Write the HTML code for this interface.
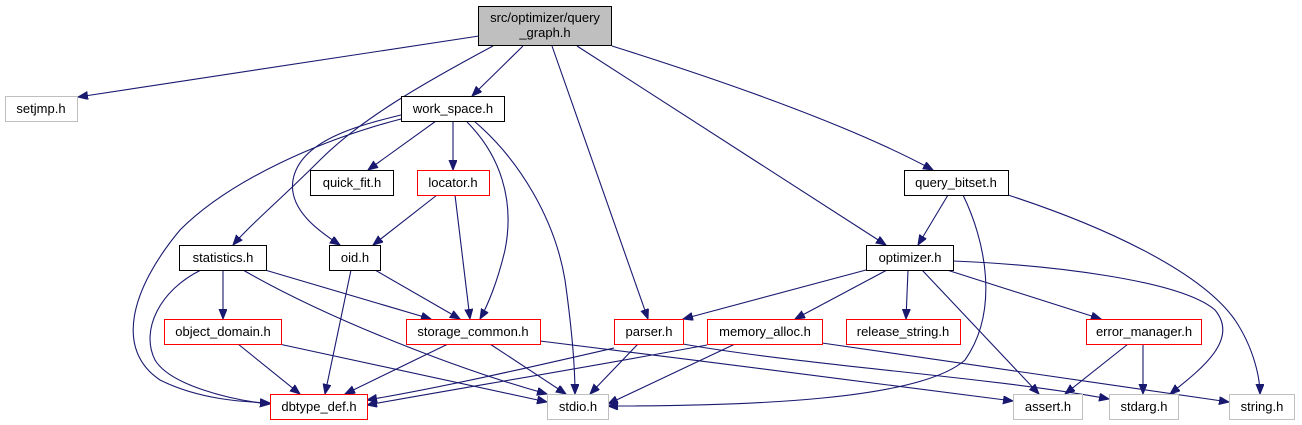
<!DOCTYPE html>
<html><head><meta charset="utf-8"><style>
html,body{margin:0;padding:0;background:#fff;width:1302px;height:425px;overflow:hidden}
svg{display:block}
text{font-family:"Liberation Sans",sans-serif;font-size:13px;text-anchor:middle;fill:#000}
.e{fill:none;stroke:#191970;stroke-width:1.1}
</style></head><body>
<svg width="1302" height="425" viewBox="0 0 1302 425">
<defs><marker id="a" markerUnits="userSpaceOnUse" markerWidth="12" markerHeight="10" refX="10" refY="4" orient="auto"><path d="M0,0 L10,4 L0,8 z" fill="#191970" stroke="#191970"/></marker></defs>
<g class="e" marker-end="url(#a)">
<path d="M479,36 L78,97"/>
<path d="M523,46 L472,96"/>
<path d="M493,46 C420,85 360,120 320,160 C280,200 250,225 233,245"/>
<path d="M552,46 L648,319"/>
<path d="M577,46 L886,245"/>
<path d="M612,46 C720,80 850,125 933,170"/>
<path d="M436,121 L368,170"/>
<path d="M453,121 L453,170"/>
<path d="M401,115 C360,125 300,140 293,180 C288,210 320,232 340,245"/>
<path d="M401,119 C320,140 230,180 180,230 C130,290 115,350 160,380 C200,400 245,402 270,403"/>
<path d="M467,122 C500,155 515,200 505,250 C498,280 488,305 480,319"/>
<path d="M474,121 C520,160 555,220 565,280 C572,330 575,370 575,394"/>
<path d="M437,195 L373,245"/>
<path d="M455,195 L470,319"/>
<path d="M223,270 L223,319"/>
<path d="M265,270 L431,319"/>
<path d="M243,270 C330,320 460,370 547,394"/>
<path d="M201,270 C160,290 140,330 155,360 C170,385 230,400 270,404"/>
<path d="M351,270 L325,394"/>
<path d="M375,270 L460,319"/>
<path d="M238,344 L300,394"/>
<path d="M279,344 L547,402"/>
<path d="M448,344 L345,394"/>
<path d="M490,344 L566,394"/>
<path d="M540,341 C700,360 880,385 1013,401"/>
<path d="M614,348 C540,365 440,388 367,400"/>
<path d="M638,344 L590,394"/>
<path d="M683,344 C800,365 1000,378 1109,399"/>
<path d="M707,345 C600,365 450,390 367,405"/>
<path d="M735,344 L608,404"/>
<path d="M822,343 L1229,402"/>
<path d="M948,195 L918,245"/>
<path d="M963,195 C985,240 1000,310 965,360 C920,400 750,406 608,406"/>
<path d="M1008,195 C1100,225 1200,270 1235,320 C1255,350 1260,380 1260,394"/>
<path d="M866,270 L683,319"/>
<path d="M887,270 L795,319"/>
<path d="M908,270 L906,319"/>
<path d="M922,270 L1039,394"/>
<path d="M947,270 L1101,319"/>
<path d="M953,261 C1050,265 1180,280 1215,310 C1240,340 1200,370 1170,394"/>
<path d="M1128,344 L1065,394"/>
<path d="M1143,344 L1143,394"/>
</g>
<g stroke-width="1">
<rect x="478.5" y="6.5" width="133" height="39" fill="#bfbfbf" stroke="#000"/>
<text x="545" y="22">src/optimizer/query</text><text x="545" y="37">_graph.h</text>
<rect x="5.5" y="96.5" width="72" height="25" fill="#fff" stroke="#bfbfbf"/><text x="41" y="113">setjmp.h</text>
<rect x="401.5" y="96.5" width="103" height="25" fill="#fff" stroke="#000"/><text x="453" y="113">work_space.h</text>
<rect x="310.5" y="170.5" width="83" height="25" fill="#fff" stroke="#000"/><text x="352" y="187">quick_fit.h</text>
<rect x="417.5" y="170.5" width="72" height="25" fill="#fff" stroke="red"/><text x="453" y="187">locator.h</text>
<rect x="904.5" y="170.5" width="104" height="25" fill="#fff" stroke="#000"/><text x="956" y="187">query_bitset.h</text>
<rect x="179.5" y="245.5" width="87" height="25" fill="#fff" stroke="#000"/><text x="223" y="262">statistics.h</text>
<rect x="329.5" y="245.5" width="51" height="25" fill="#fff" stroke="#000"/><text x="355" y="262">oid.h</text>
<rect x="866.5" y="245.5" width="87" height="25" fill="#fff" stroke="#000"/><text x="910" y="262">optimizer.h</text>
<rect x="164.5" y="319.5" width="117" height="25" fill="#fff" stroke="red"/><text x="223" y="336">object_domain.h</text>
<rect x="406.5" y="319.5" width="134" height="25" fill="#fff" stroke="red"/><text x="473" y="336">storage_common.h</text>
<rect x="614.5" y="319.5" width="69" height="25" fill="#fff" stroke="red"/><text x="649" y="336">parser.h</text>
<rect x="707.5" y="319.5" width="115" height="25" fill="#fff" stroke="red"/><text x="765" y="336">memory_alloc.h</text>
<rect x="846.5" y="319.5" width="114" height="25" fill="#fff" stroke="red"/><text x="903" y="336">release_string.h</text>
<rect x="1086.5" y="319.5" width="115" height="25" fill="#fff" stroke="red"/><text x="1144" y="336">error_manager.h</text>
<rect x="270.5" y="394.5" width="97" height="25" fill="#fff" stroke="red"/><text x="319" y="411">dbtype_def.h</text>
<rect x="547.5" y="394.5" width="61" height="25" fill="#fff" stroke="#bfbfbf"/><text x="578" y="411">stdio.h</text>
<rect x="1013.5" y="394.5" width="69" height="25" fill="#fff" stroke="#bfbfbf"/><text x="1048" y="411">assert.h</text>
<rect x="1109.5" y="394.5" width="69" height="25" fill="#fff" stroke="#bfbfbf"/><text x="1144" y="411">stdarg.h</text>
<rect x="1229.5" y="394.5" width="65" height="25" fill="#fff" stroke="#bfbfbf"/><text x="1262" y="411">string.h</text>
</g>
</svg>
</body></html>
